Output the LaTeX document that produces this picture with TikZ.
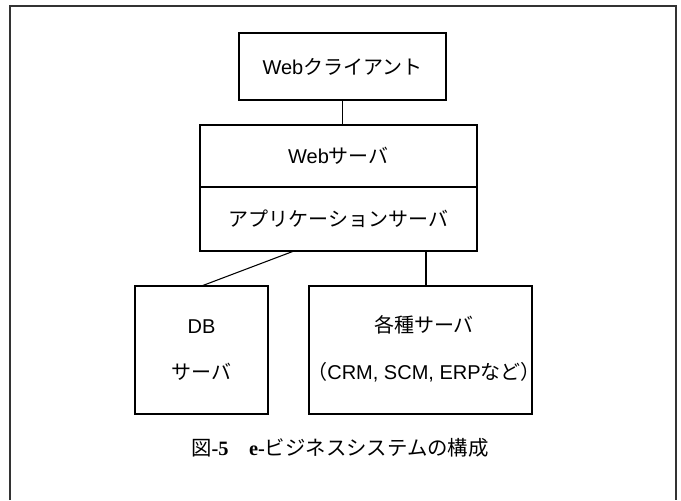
\documentclass[tikz,border=0pt]{standalone}
\usepackage{fontspec}
\setmainfont{Liberation Sans}
\newfontfamily\jp{Noto Sans CJK JP}
\newfontfamily\serifb{Liberation Serif}
\begin{document}
\begin{tikzpicture}[x=0.75pt,y=-0.75pt,
  box/.style={draw=black,line width=1.1pt,inner sep=0pt,outer sep=0pt,
    font=\fontsize{15pt}{18pt}\selectfont,align=center},
  link/.style={draw=black,line width=0.8pt},
  frame/.style={draw=black!80,line width=1.1pt}]
\useasboundingbox (0,0) rectangle (681,500);
% outer frame (open at bottom)
\draw[frame] (10,500) -- (10,6) -- (676,6) -- (676,500);
% boxes
\node[box,minimum width=207*0.75pt,minimum height=67*0.75pt] (client) at (342.5,66.5) {Web{\jp クライアント}};
\node[box,minimum width=277*0.75pt,minimum height=62*0.75pt] (web) at (338.5,156) {Web{\jp サーバ}};
\node[box,minimum width=277*0.75pt,minimum height=64*0.75pt] (app) at (338.5,219) {\jp アプリケーションサーバ};
\node[box,minimum width=133*0.75pt,minimum height=128*0.75pt] (db) at (201.5,350) {DB\\[17pt]{\jp サーバ}};
\node[box,minimum width=223*0.75pt,minimum height=128*0.75pt] (misc) at (420.5,350) {};
\node[font=\fontsize{15pt}{18pt}\selectfont,align=center,inner sep=0pt] (misctext) at (424,349)
  {{\jp 各種サーバ}\\[17pt]{\jp （}CRM, SCM, ERP{\jp など）}};
% connectors
\draw[link] (client.south) -- (client.south |- web.north);
\coordinate (a1) at ([xshift=94*0.75pt]app.south west);
\draw[link] (a1) -- (db.north);
\coordinate (m1) at ([xshift=5.5*0.75pt]misc.north);
\draw[link] (m1) -- (m1 |- app.south);
% caption
\node[font=\fontsize{15.3pt}{18pt}\selectfont,inner sep=0pt] (cap) at (340,448)
  {{\jp 図}{\serifb\bfseries -5}\hspace{1em}{\serifb\bfseries e-}{\jp ビジネスシステムの構成}};
\end{tikzpicture}
\end{document}
